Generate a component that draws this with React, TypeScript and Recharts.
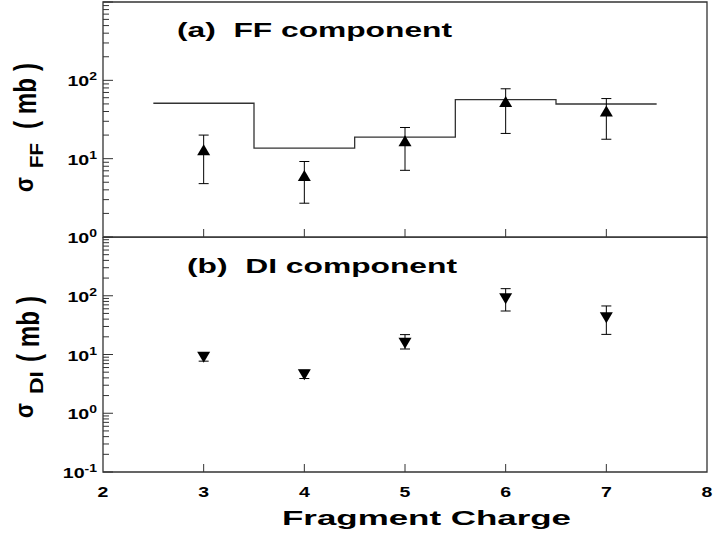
import React from "react";
import {
  ComposedChart,
  ErrorBar,
  Label,
  Line,
  ReferenceArea,
  Scatter,
  XAxis,
  YAxis,
} from "recharts";

// ============================================
// Data
// ============================================

const charges = [3, 4, 5, 6, 7];

// (a) FF component, measured
const ffValues = [12.8, 6.0, 16.7, 52.8, 40];
const ffLow = [4.8, 2.7, 7.1, 21, 17.7];
const ffHigh = [20, 9.2, 25, 78, 58.5];

// (a) FF component, calculation (histogram, one bin per charge)
const binEdges = [2.5, 3.5, 4.5, 5.5, 6.5, 7.5];
const ffCalc = [51, 13.6, 18.8, 56.8, 49.9];

// (b) DI component, measured
const diValues = [9.2, 4.6, 15.9, 91, 43];
const diLow = [7.7, 3.9, 12.4, 55, 22];
const diHigh = [10.7, 5.4, 21.8, 132, 67];

// Axes
const xTicks = [2, 3, 4, 5, 6, 7, 8];
const topDecades = [1, 10, 100, 1000];
const bottomDecades = [0.1, 1, 10, 100, 1000];
const topLabelled = [1, 10, 100];
const bottomLabelled = [0.1, 1, 10, 100];
const minorSteps = [2, 3, 4, 5, 6, 7, 8, 9];

// ============================================
// Layout
// ============================================

const FONT = '"Liberation Sans", Arial, Helvetica, sans-serif';
const W = 717;
const PLOT_LEFT = 103;
const SPLIT_Y = 237; // bottom of (a), top of (b)
const TOP_H = 262;
const BOT_H = 302;
const BOT_PLOT_H = 235;
const AXIS_COLOR = "#333";

// ============================================
// Helpers
// ============================================

function withMinors(decades: number[]): number[] {
  return decades.flatMap((d, i) =>
    i === decades.length - 1 ? [d] : [d, ...minorSteps.map((m) => d * m)],
  );
}

function toPoints(values: number[], low: number[], high: number[]) {
  return charges.map((x, i) => ({
    x,
    y: values[i],
    err: [values[i] - low[i], high[i] - values[i]],
  }));
}

const ffPoints = toPoints(ffValues, ffLow, ffHigh);
const diPoints = toPoints(diValues, diLow, diHigh);
const ffStep = binEdges.map((x, i) => ({ x, y: ffCalc[Math.min(i, ffCalc.length - 1)] }));

function makeYTick(labelled: number[]) {
  return (props: any) => {
    const { y, payload } = props;
    const v = payload.value as number;
    const lg = Math.log10(v);
    const e = Math.round(lg);
    const major = Math.abs(lg - e) < 1e-6;
    return (
      <g>
        <line
          x1={PLOT_LEFT}
          x2={PLOT_LEFT + (major ? 10 : 6)}
          y1={y}
          y2={y}
          stroke={AXIS_COLOR}
          strokeWidth={1}
        />
        {major && labelled.includes(v) && (
          <text
            transform={`translate(97,${y + 6}) scale(1.4,1)`}
            textAnchor="end"
            fontFamily={FONT}
            fontWeight="bold"
            fontSize={14}
            fill="#000"
          >
            10
            <tspan dy={-6} fontSize={10}>
              {e}
            </tspan>
          </text>
        )}
      </g>
    );
  };
}

function makeXTick(plotBottom: number, withLabel: boolean) {
  return (props: any) => {
    const { x, payload } = props;
    const v = payload.value as number;
    const inner = v > 2 && v < 8;
    return (
      <g>
        {inner && (
          <line x1={x} x2={x} y1={plotBottom} y2={plotBottom - 8} stroke={AXIS_COLOR} strokeWidth={1} />
        )}
        {withLabel && (
          <text
            transform={`translate(${x},${plotBottom + 25}) scale(1.3,1)`}
            textAnchor="middle"
            fontFamily={FONT}
            fontWeight="bold"
            fontSize={15}
            fill="#000"
          >
            {v}
          </text>
        )}
      </g>
    );
  };
}

const upTriangle = (p: any) => (
  <path d={`M${p.cx},${p.cy - 6} L${p.cx + 6.5},${p.cy + 5} L${p.cx - 6.5},${p.cy + 5} Z`} fill="#000" />
);

const downTriangle = (p: any) => (
  <path d={`M${p.cx},${p.cy + 6} L${p.cx + 6.5},${p.cy - 5} L${p.cx - 6.5},${p.cy - 5} Z`} fill="#000" />
);

// Rotated y title: sigma, subscript, "( mb )" stacked bottom-to-top
function YTitle({
  sub,
  y0,
  subLen,
  mbX,
  mbStart,
  mbEnd,
}: {
  sub: string;
  y0: number;
  subLen: number;
  mbX: number;
  mbStart: number;
  mbEnd: number;
}) {
  const textProps = { fontFamily: FONT, fontWeight: "bold" as const, fill: "#000" };
  const subStart = y0 - 24;
  return (
    <g>
      <text
        transform={`translate(33,${y0}) rotate(-90) scale(1,1.2)`}
        fontSize={22}
        textLength={15}
        lengthAdjust="spacingAndGlyphs"
        {...textProps}
      >
        σ
      </text>
      <text
        transform={`translate(43,${subStart}) rotate(-90) scale(1,1.12)`}
        fontSize={17}
        textLength={subLen}
        lengthAdjust="spacingAndGlyphs"
        {...textProps}
      >
        {sub}
      </text>
      <text
        transform={`translate(${mbX},${mbStart}) rotate(-90) scale(1,1.3)`}
        fontSize={24}
        textLength={mbStart - mbEnd}
        lengthAdjust="spacingAndGlyphs"
        {...textProps}
      >
        ( mb )
      </text>
    </g>
  );
}

// ============================================
// Component
// ============================================

export default function App() {
  return (
    <div
      style={{
        position: "absolute",
        left: 0,
        top: 0,
        width: W,
        height: 539,
        background: "#fff",
      }}
    >
      {/* (a) FF component */}
      <div style={{ position: "absolute", left: 0, top: 0 }}>
        <ComposedChart width={W} height={TOP_H} margin={{ top: 2, right: 10, left: 0, bottom: 0 }}>
          <XAxis
            type="number"
            dataKey="x"
            domain={[2, 8]}
            ticks={xTicks}
            interval={0}
            height={TOP_H - SPLIT_Y}
            axisLine={false}
            tickLine={false}
            tick={makeXTick(SPLIT_Y, false)}
          >
            <Label
              content={() => (
                <text
                  x={177}
                  y={37}
                  fontFamily={FONT}
                  fontWeight="bold"
                  fontSize={20}
                  textLength={275}
                  lengthAdjust="spacingAndGlyphs"
                  style={{ whiteSpace: "pre" }}
                  fill="#000"
                >
                  {"(a)  FF component"}
                </text>
              )}
            />
          </XAxis>
          <YAxis
            dataKey="y"
            scale="log"
            domain={[1, 1000]}
            ticks={withMinors(topDecades)}
            interval={0}
            width={PLOT_LEFT}
            axisLine={false}
            tickLine={false}
            tick={makeYTick(topLabelled)}
            allowDataOverflow
          >
            <Label
              content={() => (
                <YTitle sub="FF" y0={192} subLen={25} mbX={36} mbStart={129} mbEnd={63} />
              )}
            />
          </YAxis>
          <ReferenceArea
            x1={2}
            x2={8}
            y1={1}
            y2={1000}
            fill="none"
            stroke={AXIS_COLOR}
            strokeWidth={1.3}
            ifOverflow="visible"
          />
          <Line
            data={ffStep}
            dataKey="y"
            type="stepAfter"
            stroke="#333"
            strokeWidth={1.3}
            dot={false}
            isAnimationActive={false}
          />
          <Scatter data={ffPoints} dataKey="y" shape={upTriangle} isAnimationActive={false}>
            <ErrorBar dataKey="err" direction="y" width={5} stroke="#000" strokeWidth={1} />
          </Scatter>
        </ComposedChart>
      </div>

      {/* (b) DI component */}
      <div style={{ position: "absolute", left: 0, top: SPLIT_Y }}>
        <ComposedChart width={W} height={BOT_H} margin={{ top: 0, right: 10, left: 0, bottom: 0 }}>
          <XAxis
            type="number"
            dataKey="x"
            domain={[2, 8]}
            ticks={xTicks}
            interval={0}
            height={BOT_H - BOT_PLOT_H}
            axisLine={false}
            tickLine={false}
            tick={makeXTick(BOT_PLOT_H, true)}
          >
            <Label
              content={() => (
                <g>
                  <text
                    x={187}
                    y={36}
                    fontFamily={FONT}
                    fontWeight="bold"
                    fontSize={20}
                    textLength={270}
                    lengthAdjust="spacingAndGlyphs"
                    style={{ whiteSpace: "pre" }}
                    fill="#000"
                  >
                    {"(b)  DI component"}
                  </text>
                  <text
                    x={282}
                    y={288}
                    fontFamily={FONT}
                    fontWeight="bold"
                    fontSize={20}
                    textLength={289}
                    lengthAdjust="spacingAndGlyphs"
                    fill="#000"
                  >
                    Fragment Charge
                  </text>
                </g>
              )}
            />
          </XAxis>
          <YAxis
            dataKey="y"
            scale="log"
            domain={[0.1, 1000]}
            ticks={withMinors(bottomDecades)}
            interval={0}
            width={PLOT_LEFT}
            axisLine={false}
            tickLine={false}
            tick={makeYTick(bottomLabelled)}
            allowDataOverflow
          >
            <Label
              content={() => (
                <YTitle sub="DI" y0={181} subLen={23} mbX={39} mbStart={125} mbEnd={59} />
              )}
            />
          </YAxis>
          <ReferenceArea
            x1={2}
            x2={8}
            y1={0.1}
            y2={1000}
            fill="none"
            stroke={AXIS_COLOR}
            strokeWidth={1.3}
            ifOverflow="visible"
          />
          <Scatter data={diPoints} dataKey="y" shape={downTriangle} isAnimationActive={false}>
            <ErrorBar dataKey="err" direction="y" width={5} stroke="#000" strokeWidth={1} />
          </Scatter>
        </ComposedChart>
      </div>
    </div>
  );
}
